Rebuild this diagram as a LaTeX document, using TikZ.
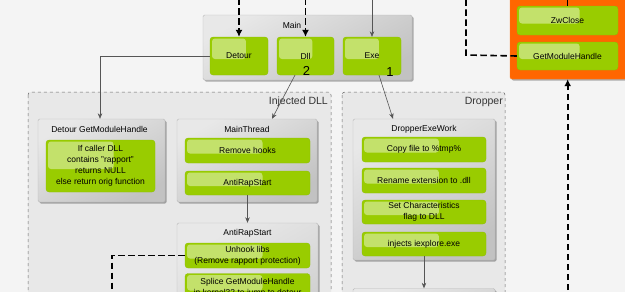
\documentclass[tikz,border=0pt]{standalone}
\usepackage{fontspec}
\setmainfont{Liberation Sans}
\usetikzlibrary{shadows,calc,arrows.meta}
\definecolor{bgc}{HTML}{F4F4F4}
\definecolor{grn}{HTML}{99CC00}
\definecolor{grnd}{HTML}{8CBD00}
\definecolor{org}{HTML}{FF6600}
\definecolor{grpfill}{HTML}{E8E8E8}
\definecolor{boxtop}{HTML}{E8E8E8}
\definecolor{boxbot}{HTML}{C2C2C2}
\definecolor{conn}{HTML}{555555}
\newcommand{\bxfont}{\fontsize{8.5}{11}\selectfont}
\begin{document}
\begin{tikzpicture}[x=1pt,y=-1pt,
  graybox/.style={draw=gray!55, line width=0.4pt, top color=boxtop, bottom color=boxbot,
    shading angle=30, rounded corners=1.5pt, inner sep=0pt,
    drop shadow={shadow xshift=1.5pt, shadow yshift=-1.5pt, opacity=0.3, fill=black}},
  greenbox/.style={draw=grnd, line width=0.3pt, fill=grn, rounded corners=3pt, inner sep=0pt,
    align=center, font=\bxfont, text=black,
    path picture={\fill[white, opacity=0.42, rounded corners=3pt]
      ($(path picture bounding box.north west)+(2pt,-1.5pt)$) rectangle
      ($(path picture bounding box.west)!0.62!(path picture bounding box.east)+(0,-3pt)$);}},
  grp/.style={draw=gray!80!black, dashed, line width=0.5pt, fill=grpfill, rounded corners=3pt},
  ttl/.style={font=\bxfont, text=black, inner sep=0pt},
  gttl/.style={font=\fontsize{10.5}{12}\selectfont, text=black!80, inner sep=0pt},
  num/.style={font=\fontsize{13}{14}\selectfont, text=black, inner sep=0pt},
  thick dash/.style={draw=black, line width=1.6pt, dash pattern=on 6.5pt off 3.5pt},
  thin conn/.style={draw=conn, line width=0.6pt},
  bigtip/.style={-{Latex[length=7pt,width=7pt]}},
  smalltip/.style={-{Stealth[length=5.5pt,width=4.5pt]}}
]
\useasboundingbox (0,0) rectangle (625,292);
\clip (0,0) rectangle (625,292);
\fill[bgc] (0,0) rectangle (625,292);

% groups
\draw[grp] (28,92) rectangle (331,420);
\node[gttl, anchor=east] (gdll) at (328,101.5) {Injected DLL};
\draw[grp] (342,92) rectangle (505,420);
\node[gttl, anchor=east] (gdrop) at (503,101.5) {Dropper};

% Main
\node[graybox, minimum width=209pt, minimum height=65pt] (main) at (307.5,47.5) {};
\node[ttl] (mainttl) at (292,25) {Main};
\node[greenbox, minimum width=58pt, minimum height=38pt] (detour) at (239,56) {Detour};
\node[greenbox, minimum width=57pt, minimum height=38pt] (dll) at (305.5,56) {Dll};
\node[greenbox, minimum width=58pt, minimum height=38pt] (exe) at (372,56) {Exe};
\node[num] (n2) at (306.5,71) {2};
\node[num] (n1) at (390,72) {1};

% Orange box
\node[draw=org!85!white, fill=org, rounded corners=2pt, minimum width=130pt, minimum height=89pt, inner sep=0pt,
  drop shadow={shadow xshift=1.5pt, shadow yshift=-1.5pt, opacity=0.3, fill=black}] (orange) at (575,34.5) {};
\node[greenbox, minimum width=101pt, minimum height=29pt] (zw) at (567.5,20.5) {ZwClose};
\node[greenbox, minimum width=101pt, minimum height=28pt] (gmh) at (567.5,56) {GetModuleHandle};

% Detour GetModuleHandle
\node[graybox, minimum width=127pt, minimum height=83pt] (dgmh) at (101.5,160.5) {};
\node[ttl] (dgmhttl) at (99.5,129.5) {Detour GetModuleHandle};
\node[greenbox, minimum width=109pt, minimum height=52pt] (dgmhin) at (100.5,166)
  {If caller DLL\\contains "rapport"\\returns NULL\\else return orig function};

% MainThread
\node[graybox, minimum width=140pt, minimum height=83pt] (mt) at (247,160.5) {};
\node[ttl] (mtttl) at (247,129.5) {MainThread};
\node[greenbox, minimum width=125pt, minimum height=25pt] (rh) at (247.5,150.5) {Remove hooks};
\node[greenbox, minimum width=125pt, minimum height=24pt] (ars) at (247.5,183) {AntiRapStart};

% AntiRapStart
\node[graybox, minimum width=141pt, minimum height=180pt] (arsbox) at (247.5,313) {};
\node[ttl] (arsttl) at (247.5,233.5) {AntiRapStart};
\node[greenbox, minimum width=125pt, minimum height=25pt] (unhook) at (247.5,255.5)
  {Unhook libs\\(Remove rapport protection)};
\node[greenbox, minimum width=125pt, minimum height=28pt] (splice) at (247.5,287.5)
  {Splice GetModuleHandle\\in kernel32 to jump to detour};

% DropperExeWork
\node[graybox, minimum width=142pt, minimum height=141pt] (dew) at (424,189.5) {};
\node[ttl] (dewttl) at (424,129.5) {DropperExeWork};
\node[greenbox, minimum width=124pt, minimum height=25pt] (copy) at (424,149.5) {Copy file to \%tmp\%};
\node[greenbox, minimum width=124pt, minimum height=25pt] (ren) at (424,180.5) {Rename extension to .dll};
\node[greenbox, minimum width=124pt, minimum height=24pt] (setc) at (424,212) {Set Characteristics\\flag to DLL};
\node[greenbox, minimum width=124pt, minimum height=24pt] (inj) at (424,244) {injects iexplore.exe};
\node[graybox, minimum width=142pt, minimum height=100pt] (nextbox) at (424,338.5) {};

% connectors
\coordinate (tdet) at (239,-2);
\coordinate (tdll) at (305.5,-2);
\coordinate (texe) at (372,-2);
\coordinate (bend1) at (100,56);
\coordinate (tz) at (567.5,-6);
\coordinate (gbend) at (466,55);
\coordinate (gtop) at (466,-2);
\coordinate (ubend) at (112,255.5);
\coordinate (ubot) at (112,300);
\coordinate (obot) at (567.7,300);

\draw[thick dash, bigtip] (tdet) -- (detour.north);
\draw[thick dash, bigtip] (tdll) -- (dll.north);
\draw[thin conn, smalltip] (texe) -- (exe.north);
\draw[thin conn, smalltip] (detour.west) -- (bend1) -- (dgmh.north -| bend1);
\draw[thin conn, smalltip] ([xshift=-10.5pt]dll.south) -- ([xshift=25pt]mt.north);
\draw[thin conn, smalltip] ([xshift=7pt]exe.south) -- ([xshift=-31pt]dew.north);
\draw[thin conn, smalltip] (ars.south) -- (arsbox.north);
\draw[thin conn, smalltip] (inj.south) -- (nextbox.north);
\draw[thick dash] (unhook.west) -- (ubend) -- (ubot);
\draw[thick dash] (gmh.west) -- (gbend) -- (gtop);
\draw[thick dash, bigtip] (obot) -- (orange.south -| obot);
\draw[black, line width=1.2pt] (tz) -- (zw.north);
\end{tikzpicture}
\end{document}
